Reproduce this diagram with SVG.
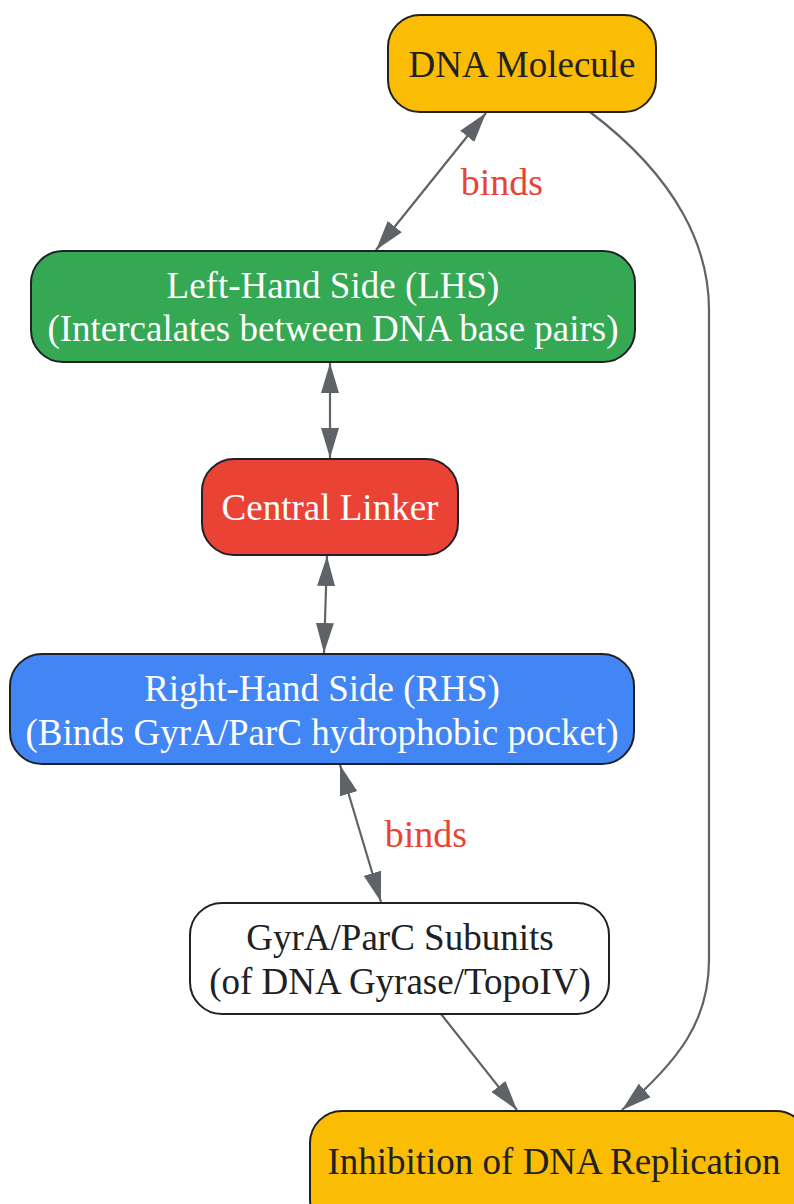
<svg xmlns="http://www.w3.org/2000/svg" width="794" height="1204" viewBox="0 0 794 1204">
<defs>
<style>
.node rect{stroke:#202124;stroke-width:2}
.t{font-family:"Liberation Serif","Times New Roman",serif;font-size:37px;text-anchor:middle}
.w{fill:#ffffff}
.d{fill:#202124}
.lbl{font-family:"Liberation Serif","Times New Roman",serif;font-size:38px;fill:#EA4335;text-anchor:middle}
.e{fill:none;stroke:#5F6368;stroke-width:2.2}
</style>
<marker id="ah" viewBox="0 0 30 18" refX="30" refY="9" markerWidth="30" markerHeight="18" markerUnits="userSpaceOnUse" orient="auto-start-reverse">
<path d="M0,0 L30,9 L0,18 z" fill="#5F6368"/>
</marker>
</defs>
<rect width="794" height="1204" fill="#ffffff"/>
<g id="edges">
<line class="e" x1="486" y1="113" x2="376" y2="250" marker-start="url(#ah)" marker-end="url(#ah)"/>
<line class="e" x1="330" y1="363" x2="330" y2="458" marker-start="url(#ah)" marker-end="url(#ah)"/>
<line class="e" x1="327" y1="556" x2="324" y2="653" marker-start="url(#ah)" marker-end="url(#ah)"/>
<line class="e" x1="340" y1="765" x2="381" y2="902" marker-start="url(#ah)" marker-end="url(#ah)"/>
<line class="e" x1="441" y1="1014" x2="517" y2="1110" marker-end="url(#ah)"/>
<path class="e" d="M590,112 C680,180 709,250 709,310 L709,960 C709,1020 680,1060 622,1110" marker-end="url(#ah)"/>
<text class="lbl" x="502" y="195">binds</text>
<text class="lbl" x="426" y="847">binds</text>
</g>
<g id="dna" class="node">
<rect x="388" y="15" width="268" height="97" rx="32" fill="#FBBC04"/>
<text class="t d" x="522" y="77">DNA Molecule</text>
</g>
<g id="lhs" class="node">
<rect x="31" y="251" width="604" height="111" rx="32" fill="#34A853"/>
<text class="t w" x="333" y="298">Left-Hand Side (LHS)</text>
<text class="t w" x="333" y="341">(Intercalates between DNA base pairs)</text>
</g>
<g id="linker" class="node">
<rect x="202" y="459" width="256" height="96" rx="32" fill="#EA4335"/>
<text class="t w" x="330" y="520">Central Linker</text>
</g>
<g id="rhs" class="node">
<rect x="10" y="654" width="624" height="110" rx="32" fill="#4285F4"/>
<text class="t w" x="322" y="701">Right-Hand Side (RHS)</text>
<text class="t w" x="322" y="745">(Binds GyrA/ParC hydrophobic pocket)</text>
</g>
<g id="gyra" class="node">
<rect x="190" y="903" width="419" height="111" rx="32" fill="#ffffff"/>
<text class="t d" x="400" y="950">GyrA/ParC Subunits</text>
<text class="t d" x="400" y="994">(of DNA Gyrase/TopoIV)</text>
</g>
<g id="inhibition" class="node">
<rect x="310" y="1111" width="498" height="120" rx="32" fill="#FBBC04"/>
<text class="t d" x="554" y="1174">Inhibition of DNA Replication</text>
</g>
</svg>
